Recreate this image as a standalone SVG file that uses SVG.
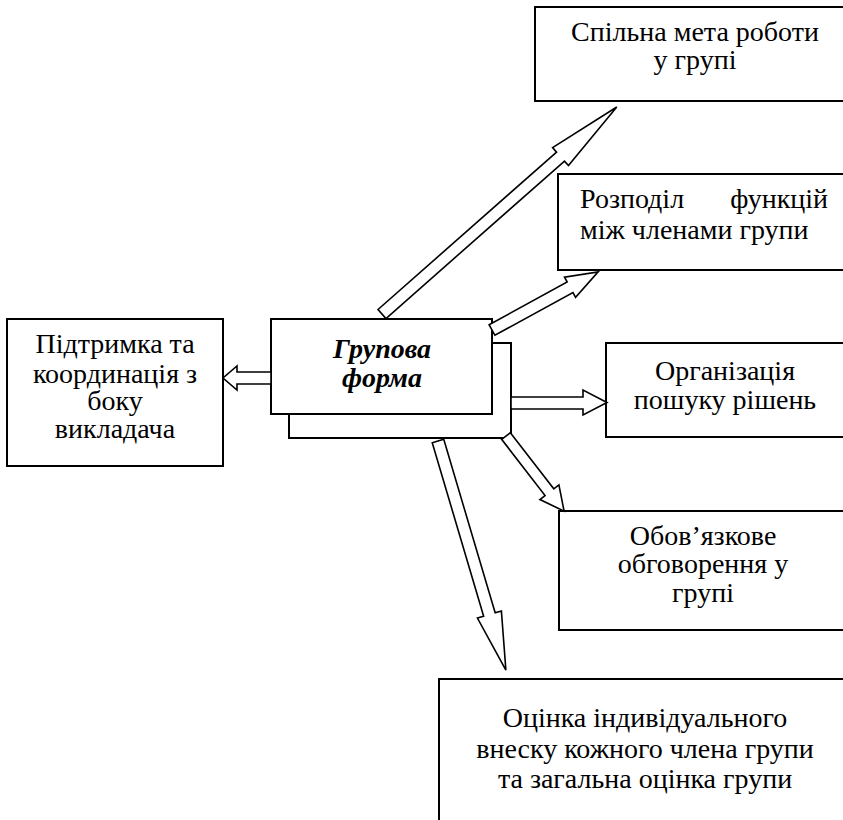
<svg xmlns="http://www.w3.org/2000/svg" width="843" height="820" viewBox="0 0 843 820">
<style>
.box{fill:#fff;stroke:#000;stroke-width:2}
.t{font-family:"Liberation Serif","Times New Roman",serif;font-size:28px;fill:#000}
.c{text-anchor:middle}
.b{font-weight:bold;font-style:italic}
.arr{fill:#fff;stroke:#000;stroke-width:1.6;stroke-linejoin:miter}
</style>
<rect width="843" height="820" fill="#fff"/>
<g id="n-goal">
<rect class="box" x="535" y="7" width="320" height="94"/>
<text class="t c" x="695" y="41">Спільна мета роботи</text>
<text class="t c" x="695" y="69">у групі</text>
</g>
<g id="n-functions">
<rect class="box" x="558" y="174" width="300" height="96"/>
<text class="t" x="580" y="208">Розподіл</text>
<text class="t" x="828" y="208" text-anchor="end">функцій</text>
<text class="t" x="580" y="239">між членами групи</text>
</g>
<g id="n-search">
<rect class="box" x="606" y="343" width="250" height="94"/>
<text class="t c" x="725" y="380">Організація</text>
<text class="t c" x="725" y="409">пошуку рішень</text>
</g>
<g id="n-discussion">
<rect class="box" x="559" y="511" width="300" height="119"/>
<text class="t c" x="703" y="545">Обов’язкове</text>
<text class="t c" x="703" y="573">обговорення у</text>
<text class="t c" x="703" y="602">групі</text>
</g>
<g id="n-assessment">
<rect class="box" x="439" y="679" width="420" height="160"/>
<text class="t c" x="645" y="727">Оцінка індивідуального</text>
<text class="t c" x="645" y="758">внеску кожного члена групи</text>
<text class="t c" x="645" y="788">та загальна оцінка групи</text>
</g>
<g id="n-support">
<rect class="box" x="7" y="319" width="216" height="147"/>
<text class="t c" x="115" y="353">Підтримка та</text>
<text class="t c" x="115" y="383">координація з</text>
<text class="t c" x="115" y="410">боку</text>
<text class="t c" x="115" y="438">викладача</text>
</g>
<g id="n-group">
<rect class="box" x="289" y="343" width="222" height="95"/>
<rect class="box" x="271" y="319" width="221" height="95"/>
<text class="t c b" x="382" y="358">Групова</text>
<text class="t c b" x="382" y="387">форма</text>
</g>
<g id="connectors">
<polygon class="arr" transform="translate(382,314) rotate(-41.4)" points="0,-6 238,-6 238,-12 313,0 238,12 238,6 0,6"/>
<polygon class="arr" transform="translate(492,330) rotate(-28.7)" points="0,-6 89,-6 89,-11.5 121,0 89,11.5 89,6 0,6"/>
<polygon class="arr" points="511,397 583,397 583,390 607,402.5 583,415 583,409 511,409"/>
<polygon class="arr" points="271,372 237,372 237,366 223,378 237,390 237,384 271,384"/>
<polygon class="arr" transform="translate(438,441) rotate(73.5)" points="0,-6 181,-6 181,-12.5 239,0 181,12.5 181,6 0,6"/>
<polygon class="arr" transform="translate(506,436) rotate(52.3)" points="0,-5.5 71,-5.5 71,-12 95,0 71,12 71,5.5 0,5.5"/>
</g>
</svg>
